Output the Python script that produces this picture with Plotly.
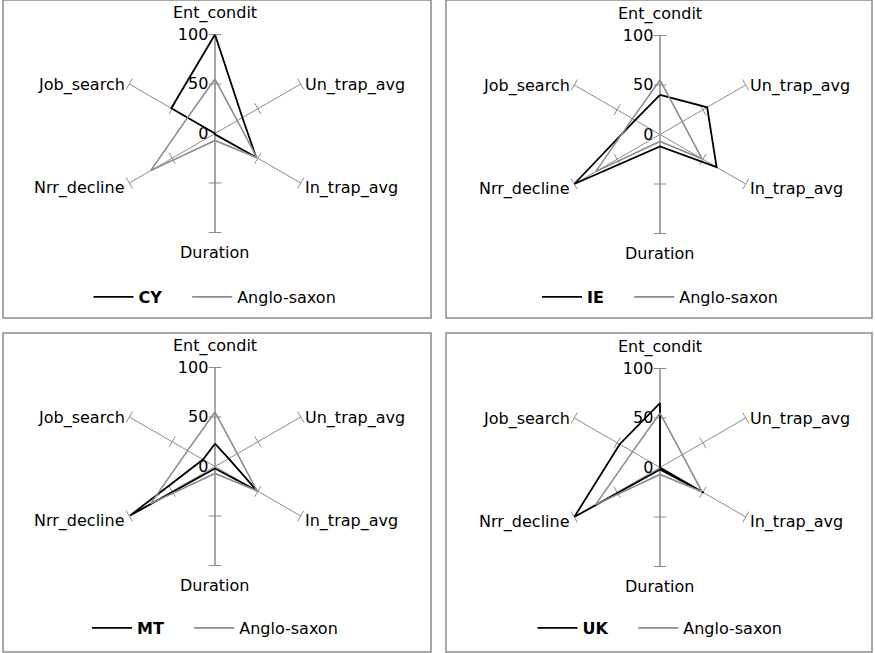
import math
import plotly.graph_objects as go

categories = ["Ent_condit", "Un_trap_avg", "In_trap_avg", "Duration", "Nrr_decline", "Job_search"]
countries = ["CY", "IE", "MT", "UK"]
cy_values = [100, 32, 48, 1, 0, 51]
ie_values = [40, 55, 66, 12, 100, 29]
mt_values = [23, 16, 49, 2, 99, 14]
uk_values = [65, 0, 51, 2, 100, 47]
anglo_saxon_values = [55, 26, 49, 7, 75, 32]
radial_ticks = [0, 50, 100]
radial_tick_labels = ["0", "50", "100"]

country_values = [cy_values, ie_values, mt_values, uk_values]

W, H = 875, 653
FONT = "DejaVu Sans"
FS = 16
SPOKE = "#8C8C8C"
AXIS = "#A6A6A6"
GRAY = "#8C8C8C"
PAD = "\u00a0" * 4

# panel layout (pixels)
centers = [(215, 133.5), (660, 134.5), (215, 466.5), (660, 467.5)]
R = 99
panels = [(3, 0, 431, 318), (446, 0, 872, 318), (3, 333, 431, 652), (446, 333, 872, 652)]
legend_y = [297, 297, 628, 628]

fig = go.Figure()
shapes = []
annotations = []
deco = []
lines = []
for k in range(4):
    pname = "polar" if k == 0 else f"polar{k+1}"
    lname = "legend" if k == 0 else f"legend{k+1}"
    sub = pname
    closed_theta = categories + [categories[0]]
    vals = country_values[k]
    lines.append(go.Scatterpolar(
        r=vals + [vals[0]], theta=closed_theta, mode="lines",
        line=dict(color="#000000", width=1.8), name=f"<b>{countries[k]}</b>{PAD}",
        subplot=sub, legend=lname))
    lines.append(go.Scatterpolar(
        r=anglo_saxon_values + [anglo_saxon_values[0]], theta=closed_theta, mode="lines",
        line=dict(color=GRAY, width=1.6), name="Anglo-saxon",
        subplot=sub, legend=lname))
    # lower half of the vertical value axis (Duration spoke)
    deco.append(go.Scatterpolar(
        r=[radial_ticks[0], radial_ticks[-1]], theta=[categories[3], categories[3]], mode="lines",
        line=dict(color=AXIS, width=2), showlegend=False, hoverinfo="skip", subplot=sub))
    # tick marks on every spoke
    for tv in radial_ticks[1:]:
        deco.append(go.Scatterpolar(
            r=[tv] * len(categories), theta=categories, mode="markers",
            marker=dict(symbol="line-ew", size=9, angle=[60 * i for i in range(len(categories))],
                        line=dict(color=SPOKE, width=1)),
            showlegend=False, hoverinfo="skip", subplot=sub, cliponaxis=False))
    cx, cy = centers[k]
    dom_x = [(cx - R) / W, (cx + R) / W]
    dom_y = [1 - (cy + R) / H, 1 - (cy - R) / H]
    fig.layout[pname] = dict(
        domain=dict(x=dom_x, y=dom_y),
        bgcolor="rgba(0,0,0,0)",
        radialaxis=dict(range=[0, 100], tickvals=radial_ticks, ticktext=radial_tick_labels,
                        showgrid=False, showline=True, linecolor=AXIS, linewidth=2,
                        angle=90, side="counterclockwise", ticks="", tickangle=90,
                        tickfont=dict(family=FONT, size=FS, color="#000"),
                        layer="below traces"),
        angularaxis=dict(type="category", categoryarray=categories, direction="clockwise",
                         rotation=90, showgrid=True, gridcolor=SPOKE, gridwidth=1,
                         showline=False, ticks="", showticklabels=False,
                         layer="below traces"),
    )
    # category labels placed just outside the spoke ends
    for i, cat in enumerate(categories):
        phi = math.radians(90 - 60 * i)
        ex = cx + R * math.cos(phi)
        ey = cy - R * math.sin(phi)
        if i == 0:
            ax, ay, xa, ya = ex, ey - 10, "center", "bottom"
        elif i == 3:
            ax, ay, xa, ya = ex, ey + 8, "center", "top"
        elif i in (1, 2):
            ax, ay, xa, ya = ex + 2, ey + (1 if i == 1 else 5), "left", "middle"
        else:
            ax, ay, xa, ya = ex - 2, ey + (5 if i == 4 else 1), "right", "middle"
        annotations.append(dict(x=ax / W, y=1 - ay / H, xref="paper", yref="paper",
                                text=cat, showarrow=False, xanchor=xa, yanchor=ya,
                                font=dict(family=FONT, size=FS, color="#000")))
    fig.layout[lname] = dict(
        orientation="h", x=cx / W, y=1 - legend_y[k] / H, xanchor="center", yanchor="middle",
        font=dict(family=FONT, size=FS, color="#000"), bgcolor="rgba(0,0,0,0)",
        traceorder="normal", itemwidth=40,
    )
    x0, y0, x1, y1 = panels[k]
    shapes.append(dict(type="rect", xref="paper", yref="paper",
                       x0=x0 / W, x1=x1 / W, y0=1 - y1 / H, y1=1 - y0 / H,
                       line=dict(color="#8C8C8C", width=1.5)))

for t in deco + lines:
    fig.add_trace(t)

fig.update_layout(
    width=W, height=H, margin=dict(l=0, r=0, t=0, b=0),
    paper_bgcolor="white", plot_bgcolor="white", shapes=shapes, annotations=annotations,
    font=dict(family=FONT, size=FS, color="#000"),
)
fig.write_html("out.html", config={"displayModeBar": False},
               post_script="document.body.style.margin='0';document.body.style.overflow='hidden';")
